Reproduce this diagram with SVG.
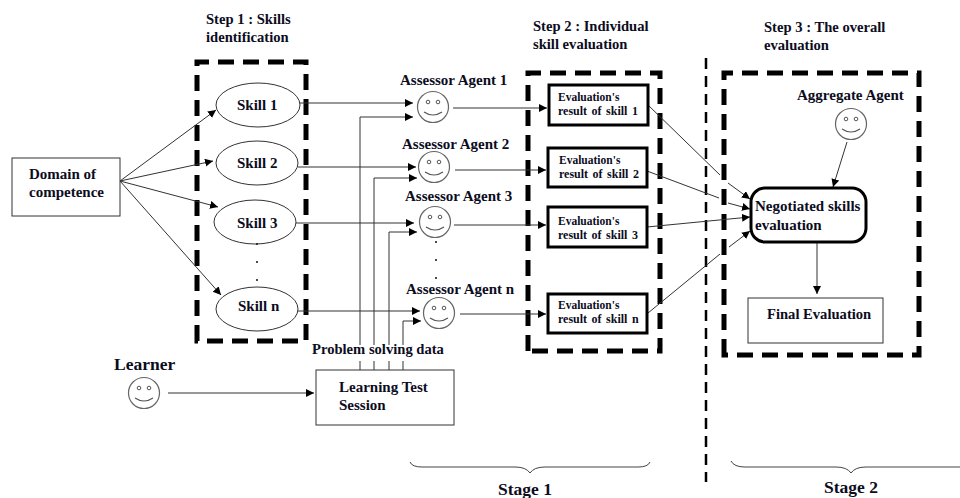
<svg xmlns="http://www.w3.org/2000/svg" width="960" height="498" viewBox="0 0 960 498">
<style>
text{font-family:"Liberation Serif","Times New Roman",serif;font-weight:bold;fill:#0c0c1e}
.s{font-size:15px}.m{font-size:14.6px}.e{font-size:11.5px}.r{font-size:12px;word-spacing:1.5px}.b{font-size:17.5px}
.zone{fill:none;stroke:#000;stroke-width:5;stroke-dasharray:16 9}
.box{fill:#fff;stroke:#333;stroke-width:1}
.ev{fill:#fff;stroke:#000;stroke-width:3}
.sk{fill:#fff;stroke:#333;stroke-width:1}
.c{fill:none;stroke:#333;stroke-width:1}
.a{marker-end:url(#arr)}
.face{fill:#fff;stroke:#666;stroke-width:1.2}
.eye{fill:#fff;stroke:#555;stroke-width:1}
.mouth{fill:none;stroke:#555;stroke-width:1.2}
.dot{fill:#111}
</style>
<defs>
<marker id="arr" markerUnits="userSpaceOnUse" markerWidth="10" markerHeight="10" refX="8" refY="4" orient="auto"><path d="M0 0L8 4L0 8Z" fill="#000"/></marker>
<g id="smiley"><circle class="face" r="15.5"/><circle class="eye" cx="-5" cy="-5" r="1.8"/><circle class="eye" cx="5" cy="-5" r="1.8"/><path class="mouth" d="M-9 5Q0 11 9 5"/></g>
</defs>
<rect width="960" height="498" fill="#fff"/>

<g id="zones">
<path class="zone" d="M197 341V62H306V341Z"/>
<path class="zone" d="M528 351V73H660V351Z"/>
<path class="zone" d="M724 355V73H919V355Z"/>
<path d="M706 58V482" fill="none" stroke="#000" stroke-width="2.5" stroke-dasharray="11 7"/>
</g>

<g id="connectors">
<path class="c a" d="M120 181L216 110"/>
<path class="c a" d="M120 181L213 161"/>
<path class="c a" d="M120 181L218 207"/>
<path class="c a" d="M120 181L221 295"/>
<path class="c a" d="M300 103H413"/>
<path class="c a" d="M298 167H416"/>
<path class="c a" d="M296 223H414"/>
<path class="c a" d="M298 311H420"/>
<path class="c a" d="M360 345V117H413"/>
<path class="c a" d="M374 345V178H417"/>
<path class="c a" d="M389 345V232H417"/>
<path class="c a" d="M403 345V321H421"/>
<path class="c" d="M360 361V370M374 361V370M389 361V370M403 361V370"/>
<path class="c a" d="M453 108H547"/>
<path class="c a" d="M455 170H546"/>
<path class="c a" d="M454 225H546"/>
<path class="c a" d="M460 314H546"/>
<path class="c" d="M648 105L720 175"/><path class="c a" d="M728 183L750 199"/>
<path class="c" d="M647 171L719 198"/><path class="c a" d="M728 203L750 209"/>
<path class="c a" d="M647 227L750 217"/>
<path class="c" d="M648 313L720 254"/><path class="c a" d="M729 247L750 231"/>
<path class="c a" d="M847 142L833 187"/>
<path class="c a" d="M817 242V294"/>
<path class="c a" d="M168 393H314"/>
</g>

<g id="domain"><rect class="box" x="12" y="158" width="108" height="58"/><text class="s" x="29" y="179">Domain of</text><text class="s" x="29" y="197">competence</text></g>
<g id="skill1"><ellipse class="sk" cx="258" cy="105" rx="42" ry="22"/><text class="s" x="237" y="110">Skill 1</text></g>
<g id="skill2"><ellipse class="sk" cx="257" cy="163" rx="41" ry="22"/><text class="s" x="237" y="168">Skill 2</text></g>
<g id="skill3"><ellipse class="sk" cx="255" cy="222" rx="41" ry="22"/><text class="s" x="237" y="228">Skill 3</text></g>
<g id="skilln"><ellipse class="sk" cx="257" cy="309" rx="41" ry="22"/><text class="s" x="238" y="311">Skill n</text></g>
<g id="dots"><circle class="dot" cx="257" cy="244" r="1"/><circle class="dot" cx="257" cy="262" r="1"/><circle class="dot" cx="257" cy="280" r="1"/><circle class="dot" cx="436" cy="242" r="1"/><circle class="dot" cx="436" cy="260" r="1"/><circle class="dot" cx="436" cy="278" r="1"/></g>

<g id="agent1"><use href="#smiley" x="433" y="107"/><text class="s" x="400" y="85">Assessor Agent 1</text></g>
<g id="agent2"><use href="#smiley" x="434" y="167"/><text class="s" x="402" y="149">Assessor Agent 2</text></g>
<g id="agent3"><use href="#smiley" x="435" y="222"/><text class="s" x="405" y="201">Assessor Agent 3</text></g>
<g id="agentn"><use href="#smiley" x="439" y="313"/><text class="s" x="406" y="294">Assessor Agent n</text></g>
<g id="learner"><use href="#smiley" x="144" y="393"/><text class="b" x="114" y="370">Learner</text></g>
<g id="aggregate"><use href="#smiley" x="851" y="124"/><text class="s" x="797" y="100">Aggregate Agent</text></g>

<g id="eval1"><rect class="ev" x="549" y="85" width="99" height="40"/><text class="e" x="558" y="101">Evaluation's</text><text class="r" x="558" y="115">result of skill 1</text></g>
<g id="eval2"><rect class="ev" x="548" y="148" width="99" height="39"/><text class="e" x="559" y="164">Evaluation's</text><text class="r" x="559" y="178">result of skill 2</text></g>
<g id="eval3"><rect class="ev" x="548" y="207" width="99" height="40"/><text class="e" x="558" y="225">Evaluation's</text><text class="r" x="558" y="239">result of skill 3</text></g>
<g id="evaln"><rect class="ev" x="548" y="294" width="99" height="39"/><text class="e" x="558" y="309">Evaluation's</text><text class="r" x="558" y="323">result of skill n</text></g>

<g id="negotiated"><rect class="ev" x="751" y="188" width="115" height="54" rx="14"/><text class="s" x="755" y="211">Negotiated skills</text><text class="s" x="755" y="230">evaluation</text></g>
<g id="final"><rect class="box" x="748" y="298" width="135" height="45"/><text class="m" x="767" y="319">Final Evaluation</text></g>
<g id="session"><rect class="box" x="316" y="370" width="138" height="55"/><text class="s" x="339" y="392">Learning Test</text><text class="s" x="339" y="410">Session</text></g>

<g id="labels">
<text class="m" x="312" y="354">Problem solving data</text>
<text class="m" x="206" y="24">Step 1 : Skills</text><text class="m" x="206" y="42">identification</text>
<text class="m" x="533" y="31">Step 2 : Individual</text><text class="m" x="533" y="49">skill evaluation</text>
<text class="m" x="764" y="32">Step 3 : The overall</text><text class="m" x="764" y="50">evaluation</text>
<text class="b" x="498" y="495">Stage 1</text>
<text class="b" x="824" y="493">Stage 2</text>
</g>

<g id="braces" fill="none" stroke="#444" stroke-width="1">
<path d="M410 462Q412 467 422 467H515Q526 467 530 473Q534 467 545 467H638Q648 467 650 462"/>
<path d="M731 461Q734 467 745 467H836Q847 467 851 473Q855 467 866 467H960"/>
</g>
</svg>
